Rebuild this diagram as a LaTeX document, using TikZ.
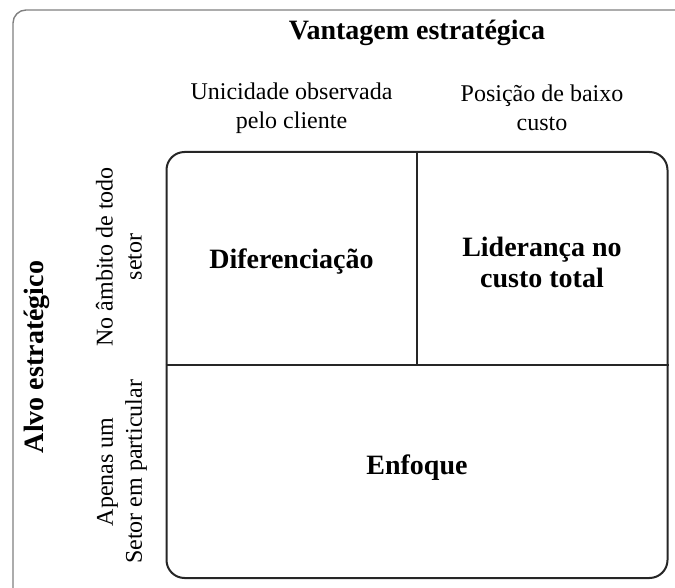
\documentclass[tikz,border=0pt]{standalone}
\usepackage{fontspec}
\setmainfont{Liberation Serif}
\usetikzlibrary{positioning}

\begin{document}
\begin{tikzpicture}[x=1pt, y=-1pt,
		every node/.style={align=center, inner sep=0pt},
		lbl/.style={font=\fontsize{24}{29}\selectfont},
		cell/.style={font=\fontsize{28}{31}\selectfont\bfseries},
		grid/.style={draw=black!85, line width=1.6pt}]
		\useasboundingbox (0,0) rectangle (675,588);
		\clip (0,0) rectangle (675,588);
		
		% frame
		\draw[draw=black!50, line width=1.4pt, rounded corners=13pt] (13,10) rectangle (700,620);
		
		% matrix
		\node[grid, line width=2pt, rounded corners=18pt, minimum width=501pt, minimum height=426pt](BOX) at (417,365){};
		\draw[grid] (BOX.west) -- (BOX.east);
		\draw[grid] (BOX.north) -- (BOX.center);
		
		\node[cell](DIF) at (291.5,262){Diferenciação};
		\node[cell, right of=DIF, node distance=250.5pt](LID){Liderança no\\custo total};
		\node[cell](ENF) at (417,468){Enfoque};
		
		% eixo horizontal
		\node[cell](VANT) at (417,33){Vantagem estratégica};
		\node[lbl](COL1) at (291.5,108){Unicidade observada\\pelo cliente};
		\node[lbl, right of=COL1, node distance=250.5pt](COL2){Posição de baixo\\custo};
		
		% eixo vertical
		\node[cell, rotate=90](ALVO) at (37,357){Alvo estratégico};
		\node[lbl, rotate=90](ROW1) at (119,257){No âmbito de todo\\setor};
		\node[lbl, rotate=90](ROW2) at (122,472){Apenas um\\Setor em particular};
\end{tikzpicture}
\end{document}
